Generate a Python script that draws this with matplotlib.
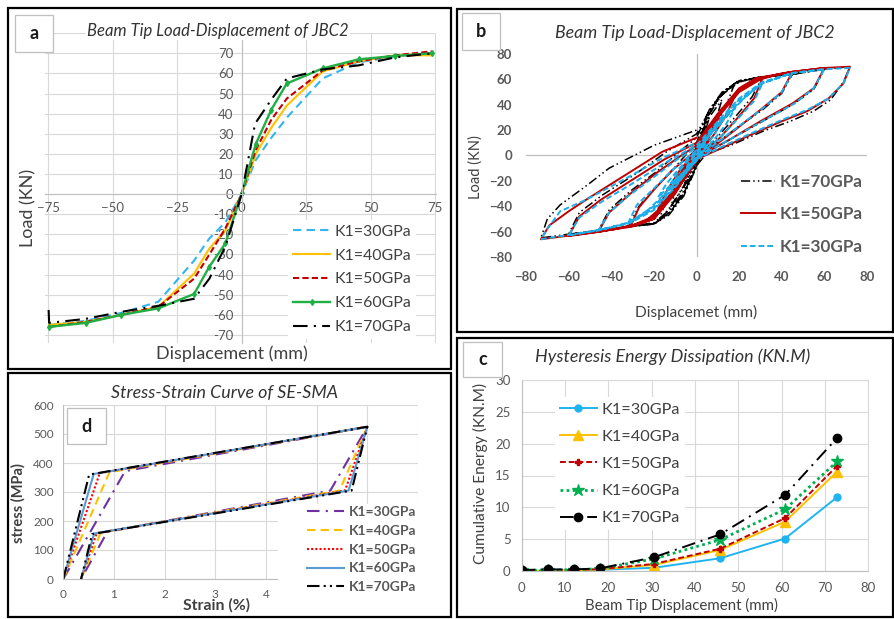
import matplotlib
matplotlib.use('Agg')
import matplotlib.pyplot as plt
from matplotlib.patches import Rectangle

plt.rcParams['font.family'] = ['Lato', 'DejaVu Sans']

W, H = 895, 619

# ---------------- panel a : backbone curves ----------------
a_disp = [-74.6, -60.4, -46.6, -32.3, -18.4, -12.5, -6.3, 0, 5.5, 11.5, 17.5, 31.4, 45.3, 59.5, 73.7]
a_k30 = [-65, -63, -59, -53.5, -33, -22, -14, 0, 17, 28, 38, 57.5, 65.5, 68.5, 70]
a_k40 = [-65, -63.5, -60, -56, -39.5, -27, -18, 0, 20, 33, 44, 61, 66, 69, 69]
a_k50 = [-66, -63.5, -60, -56, -42, -30, -17, 0, 22, 37, 47.5, 61.5, 66, 69, 71]
a_k60 = [-66, -64, -60, -56.8, -49.6, -36, -24.5, 0.4, 25, 42, 55, 62.5, 67, 68.7, 70]
a_disp70 = [-74.8, -74.6, -60.4, -46.6, -32.3, -18.4, -12.5, -6.3, 0, 5.2, 11.5, 17.5, 31.4, 45.3, 59.5, 73.7]
a_k70 = [-57.6, -64, -62, -58.5, -55.5, -52, -42, -26, 0, 35, 47, 57.5, 62, 64, 68, 70]
a_xticks = [-75, -50, -25, 0, 25, 50, 75]
a_yticks = [-70, -60, -50, -40, -30, -20, -10, 0, 10, 20, 30, 40, 50, 60, 70, 80]
a_ylabels = ['-70', '-60', '-50', '-40', '-30', '-20', '-10', '0', '10', '20', '30', '40', '50', '60', '70', '']

# ---------------- panel b : hysteresis loops (one list of cycles per series) ----------------
b_k70 = [
    [(0, 0), (3, 18), (6, 30), (4, 18), (1, 4), (-3, -12), (-6, -25), (-4, -12), (-1, 0), (0, 3)],
    [(0, 3), (5, 28), (12, 44), (9, 28), (4, 10), (0, -4), (-6, -24), (-12, -40), (-9, -24), (-4, -6), (0, 5)],
    [(0, 5), (5, 30), (11, 46), (18, 57), (14, 40), (8, 20), (2, 4), (0, -5), (-6, -25), (-12, -40),
     (-18, -52), (-14, -35), (-8, -15), (-2, 0), (0, 7)],
    [(0, 7), (6, 33), (12, 48), (20, 58), (31, 62), (26, 46), (19, 32), (10, 15), (2, 1), (0, -7), (-6, -28),
     (-12, -42), (-20, -53), (-32, -56), (-27, -40), (-19, -25), (-10, -9), (0, 10)],
    [(0, 10), (6, 35), (12, 49), (20, 58), (30, 62), (45, 64), (40, 49), (31, 36), (19, 22), (8, 8), (0, -8),
     (-6, -30), (-12, -44), (-20, -54), (-32, -56), (-46, -59), (-41, -43), (-31, -28), (-19, -13), (-8, 3), (0, 14)],
    [(0, 14), (6, 36), (12, 50), (20, 59), (31, 62), (45, 64), (60, 68), (55, 52), (45, 40), (30, 26), (15, 12),
     (3, 1), (0, -8), (-6, -30), (-13, -46), (-20, -54), (-32, -56), (-46, -59), (-60, -62), (-55, -45),
     (-44, -31), (-29, -15), (-14, 3), (0, 17)],
    [(0, 17), (7, 38), (13, 51), (20, 59), (31, 62), (45, 64), (60, 68), (72, 70), (69, 58), (63, 44), (55, 35),
     (44, 27), (31, 19), (16, 8), (2, 0), (0, -9), (-6, -32), (-13, -47), (-20, -54), (-32, -56), (-46, -59),
     (-60, -62), (-73, -65), (-70, -50), (-64, -39), (-51, -23), (-41, -10), (-20, 8), (0, 20)],
]
b_k50 = [
    [(0, 0), (3, 11), (6, 22), (4, 12), (1, 2), (-3, -8), (-6, -17), (-4, -8), (-1, 1), (0, 2)],
    [(0, 2), (6, 20), (12, 37), (9, 24), (4, 9), (0, -2), (-6, -16), (-12, -30), (-9, -18), (-4, -5), (0, 3)],
    [(0, 3), (6, 20), (12, 36), (18, 47), (14, 32), (8, 16), (3, 5), (0, -3), (-6, -16), (-12, -30), (-18, -42),
     (-14, -28), (-8, -12), (-3, -2), (0, 4)],
    [(0, 4), (8, 26), (15, 42), (22, 54), (31, 61), (27, 45), (20, 31), (11, 14), (3, 2), (0, -4), (-8, -24),
     (-16, -40), (-24, -52), (-31, -56), (-27, -41), (-20, -27), (-11, -11), (-3, 0), (0, 5)],
    [(0, 5), (10, 30), (20, 50), (30, 60), (38, 64), (45, 66), (40, 50), (30, 36), (18, 20), (8, 7), (0, -4),
     (-10, -28), (-20, -48), (-30, -55), (-38, -58), (-46, -60), (-41, -45), (-31, -30), (-19, -14), (-8, -1), (0, 8)],
    [(0, 8), (10, 32), (20, 52), (28, 60), (45, 66), (60, 69), (55, 53), (45, 41), (30, 27), (15, 12), (3, 1),
     (0, -4), (-10, -29), (-20, -50), (-30, -55), (-45, -60), (-60, -63.5), (-55, -48), (-45, -35), (-30, -19),
     (-15, -3), (0, 10)],
    [(0, 10), (10, 33), (20, 53), (28, 61), (45, 66), (60, 69), (72, 70), (69, 57), (62, 45), (52, 35), (40, 27),
     (25, 16), (12, 6), (0, -3), (-10, -30), (-20, -50), (-30, -56), (-50, -61), (-73, -66), (-69, -55),
     (-60, -44), (-51, -34), (-33, -15), (-16, 3), (0, 14)],
]
b_k30 = [
    [(0, 0), (3, 9), (6, 17), (4, 9), (1, 1), (-3, -7), (-6, -14), (-4, -7), (-1, 0), (0, 1)],
    [(0, 1), (6, 16), (12, 28), (9, 18), (4, 6), (0, -2), (-6, -13), (-12, -22), (-9, -14), (-4, -4), (0, 2)],
    [(0, 2), (6, 16), (12, 28), (18, 37), (14, 25), (8, 12), (3, 3), (0, -2), (-6, -13), (-12, -23), (-18, -33),
     (-14, -22), (-8, -10), (-3, -1), (0, 3)],
    [(0, 3), (8, 20), (16, 34), (24, 48), (31, 57), (27, 43), (20, 30), (11, 14), (3, 3), (0, -3), (-8, -18),
     (-16, -32), (-24, -45), (-32, -53), (-28, -39), (-20, -26), (-11, -11), (-3, 0), (0, 4)],
    [(0, 4), (10, 24), (20, 42), (31, 57), (45, 65), (40, 50), (31, 37), (19, 22), (8, 8), (0, -3), (-10, -22),
     (-20, -40), (-32, -53), (-46, -59), (-41, -45), (-32, -32), (-20, -17), (-9, -3), (0, 6)],
    [(0, 6), (10, 26), (20, 44), (31, 57), (45, 65), (60, 68), (55, 53), (46, 41), (32, 28), (16, 13), (4, 2),
     (0, -4), (-10, -24), (-20, -42), (-32, -53), (-46, -59), (-60, -63), (-55, -49), (-45, -37), (-30, -22),
     (-15, -6), (0, 8)],
    [(0, 8), (10, 27), (20, 45), (31, 58), (45, 65), (60, 68), (72, 69), (69, 57), (62, 45), (52, 36), (40, 28),
     (25, 17), (12, 7), (0, -3), (-10, -25), (-20, -43), (-32, -54), (-50, -60), (-73, -66), (-70, -58),
     (-64, -44), (-52, -35), (-33, -18), (-16, -2), (0, 10)],
]
b_ticks = [-80, -60, -40, -20, 0, 20, 40, 60, 80]

# ---------------- panel c : cumulative energy ----------------
c_disp = [0, 6, 12, 18, 30.5, 45.8, 60.8, 72.8]
c_k30 = [0, 0.05, 0.1, 0.2, 0.5, 2.0, 5.1, 11.6]
c_k40 = [0, 0.05, 0.1, 0.25, 0.95, 3.3, 7.75, 15.6]
c_k50 = [0, 0.05, 0.15, 0.3, 1.1, 3.5, 8.3, 16.5]
c_k60 = [0.1, 0.15, 0.2, 0.35, 1.9, 4.9, 9.7, 17.2]
c_k70 = [0.15, 0.25, 0.25, 0.4, 2.15, 5.75, 11.95, 20.9]

# ---------------- panel d : SMA stress-strain ----------------
d_strain30 = [0, 1.22, 6.0, 5.27, 0.87, 0.35]
d_stress30 = [0, 372, 525, 305, 163, 0]
d_strain40 = [0, 0.91, 6.0, 5.45, 0.74, 0.35]
d_stress40 = [0, 368, 525, 305, 160, 0]
d_strain50 = [0, 0.72, 6.0, 5.56, 0.66, 0.35]
d_stress50 = [0, 365, 525, 305, 158, 0]
d_strain60 = [0, 0.60, 6.0, 5.63, 0.61, 0.35]
d_stress60 = [0, 362, 525, 305, 157, 0]
d_strain70 = [0, 0.51, 6.0, 5.69, 0.57, 0.35]
d_stress70 = [0, 360, 525, 305, 155, 0]
d_xlabels = ['0', '1', '2', '3', '4', '', '', '']

labels5 = ['K1=30GPa', 'K1=40GPa', 'K1=50GPa', 'K1=60GPa', 'K1=70GPa']

GRID = '#D9D9D9'
AXIS = '#BFBFBF'
TICK = '#595959'
TXT = '#404040'


def fx(px):
    return px / W


def fy(py):
    return 1 - py / H


def add_axes(fig, left, top, right, bottom):
    return fig.add_axes([fx(left), fy(bottom), (right - left) / W, (bottom - top) / H])


def border(fig, x0, y0, x1, y1):
    fig.add_artist(Rectangle((fx(x0), fy(y1)), (x1 - x0) / W, (y1 - y0) / H,
                             transform=fig.transFigure, fill=False, edgecolor='black', lw=1.6))


def tag(fig, x0, y0, x1, y1, letter):
    fig.add_artist(Rectangle((fx(x0), fy(y1)), (x1 - x0) / W, (y1 - y0) / H,
                             transform=fig.transFigure, facecolor='white', edgecolor=AXIS, lw=0.9, zorder=6))
    fig.text(fx((x0 + x1) / 2), fy((y0 + y1) / 2), letter, ha='center', va='center',
             fontsize=13, fontweight='bold', color='#1a1a1a', zorder=7)


def flatten(cycles):
    xs, ys = [], []
    for cyc in cycles:
        for x, y in cyc:
            xs.append(x)
            ys.append(y)
    return xs, ys


fig = plt.figure(figsize=(W / 100, H / 100), dpi=100)

# =============== panel a ===============
ax = add_axes(fig, 45, 33.2, 435.7, 343)
ax.set_xlim(-76.2, 75.2)
ax.set_ylim(-74, 80)
ax.set_xticks(a_xticks)
ax.set_yticks(a_yticks)
ax.set_yticklabels(a_ylabels)
ax.grid(True, color=GRID, lw=0.8)
ax.set_axisbelow(True)
for s in ['top', 'right']:
    ax.spines[s].set_visible(False)
ax.spines['left'].set_position(('data', 0))
ax.spines['bottom'].set_position(('data', 0))
for s in ['left', 'bottom']:
    ax.spines[s].set_color(AXIS)
ax.tick_params(length=0, labelsize=9.5, labelcolor=TICK, pad=6)
ax.plot(a_disp, a_k30, color='#33B5F0', lw=1.5, ls=(0, (4, 2.5)), label=labels5[0])
ax.plot(a_disp, a_k40, color='#FFC000', lw=1.5, label=labels5[1])
ax.plot(a_disp, a_k50, color='#C00000', lw=1.5, ls=(0, (3, 1.5)), label=labels5[2])
ax.plot(a_disp, a_k60, color='#1FAF45', lw=1.7, marker='d', ms=3, label=labels5[3])
ax.plot(a_disp70, a_k70, color='black', lw=1.5, ls=(0, (7, 3, 1, 3)), label=labels5[4])
ax.legend(loc='upper left', bbox_to_anchor=(fx(288.3), fy(219.8)), bbox_transform=fig.transFigure,
          prop={'size': 11.4}, labelcolor=TXT, handlelength=2.34, handletextpad=0.25,
          labelspacing=0.62, borderpad=0.3, borderaxespad=0, framealpha=1,
          facecolor='white', edgecolor='none', fancybox=False)
fig.text(fx(218), fy(30.7), 'Beam Tip Load-Displacement of JBC2', ha='center', va='center',
         fontsize=12, style='italic', color='#333333',
         bbox=dict(facecolor='white', edgecolor='none', pad=1))
fig.text(fx(28), fy(208), 'Load (KN)', rotation=90, ha='center', va='center', fontsize=13, color=TXT)
fig.text(fx(232), fy(353.3), 'Displacement (mm)', ha='center', va='center', fontsize=13, color=TXT)

# =============== panel b ===============
ax = add_axes(fig, 526, 54, 867, 257)
ax.set_xlim(-80, 80)
ax.set_ylim(-80, 80)
ax.set_xticks(b_ticks)
ax.set_yticks(b_ticks)
for s in ax.spines.values():
    s.set_visible(False)
ax.axhline(0, color=AXIS, lw=0.9, zorder=0)
ax.axvline(0, color=AXIS, lw=0.9, zorder=0)
ax.tick_params(length=0, labelsize=9.5, labelcolor=TICK, pad=10)
for lab in ax.get_xticklabels() + ax.get_yticklabels():
    lab.set_fontweight('bold')
x70, y70 = flatten(b_k70)
x50, y50 = flatten(b_k50)
x30, y30 = flatten(b_k30)
ax.plot(x70, y70, color='black', lw=1.1, ls=(0, (6, 2, 1, 2, 1, 2)), label='K1=70GPa')
ax.plot(x50, y50, color='#C00000', lw=1.4, label='K1=50GPa')
ax.plot(x30, y30, color='#1BAEE8', lw=1.4, ls=(0, (3, 1.5)), label='K1=30GPa')
ax.legend(loc='upper left', bbox_to_anchor=(fx(735.6), fy(168.4)), bbox_transform=fig.transFigure,
          prop={'size': 12.3, 'weight': 'bold'}, labelcolor=TICK, handlelength=2.0,
          handletextpad=0.3, labelspacing=0.98, borderpad=0.3, borderaxespad=0,
          framealpha=1, facecolor='white', edgecolor='none', fancybox=False)
fig.text(fx(695), fy(33.3), 'Beam Tip Load-Displacement of JBC2', ha='center', va='center',
         fontsize=12.8, style='italic', color='#333333')
fig.text(fx(476), fy(166.7), 'Load (KN)', rotation=90, ha='center', va='center', fontsize=10.5, color=TXT)
fig.text(fx(695.7), fy(312.7), 'Displacemet (mm)', ha='center', va='center', fontsize=11.2, color=TXT)

# =============== panel c ===============
ax = add_axes(fig, 521.7, 380, 868.3, 571)
ax.set_xlim(0, 80)
ax.set_ylim(0, 30)
ax.set_xticks(range(0, 81, 10))
ax.set_yticks(range(0, 31, 5))
ax.grid(True, color=GRID, lw=0.8)
ax.set_axisbelow(True)
for s in ['top', 'right']:
    ax.spines[s].set_color(GRID)
for s in ['left', 'bottom']:
    ax.spines[s].set_color(AXIS)
ax.tick_params(length=0, labelsize=9.5, labelcolor=TICK, pad=8)
ax.plot(c_disp, c_k30, color='#1FB4F0', lw=1.4, marker='o', ms=5, label=labels5[0])
ax.plot(c_disp, c_k40, color='#FFC000', lw=1.4, marker='^', ms=7, label=labels5[1])
ax.plot(c_disp, c_k50, color='#C00000', lw=1.4, ls=(0, (3, 1.5)), marker='P', ms=5, label=labels5[2])
ax.plot(c_disp, c_k60, color='#00B050', lw=2, ls=(0, (1, 1.2)), marker='*', ms=9, label=labels5[3])
ax.plot(c_disp, c_k70, color='black', lw=1.4, ls=(0, (7, 3, 1, 3)), marker='o', ms=6, label=labels5[4])
ax.legend(loc='upper left', bbox_to_anchor=(fx(555), fy(397.4)), bbox_transform=fig.transFigure,
          prop={'size': 11.7}, labelcolor=TXT, handlelength=2.28, handletextpad=0.3,
          labelspacing=0.79, borderpad=0.3, borderaxespad=0, framealpha=1,
          facecolor='white', edgecolor='none', fancybox=False)
fig.text(fx(672.7), fy(356.7), 'Hysteresis Energy Dissipation (KN.M)', ha='center', va='center',
         fontsize=12.9, style='italic', color='#333333')
fig.text(fx(480), fy(473), 'Cumulative Energy (KN.M)', rotation=90, ha='center', va='center',
         fontsize=11.2, color=TXT)
fig.text(fx(681.7), fy(605.7), 'Beam Tip Displacement (mm)', ha='center', va='center',
         fontsize=10.8, color=TXT)

# =============== panel d ===============
ax = add_axes(fig, 63.3, 405, 418, 579)
ax.set_xlim(0, 7)
ax.set_ylim(0, 600)
ax.set_xticks(range(0, 8))
ax.set_xticklabels(d_xlabels)
ax.set_yticks(range(0, 601, 100))
ax.grid(True, color=GRID, lw=0.8)
ax.set_axisbelow(True)
for s in ['top', 'right']:
    ax.spines[s].set_visible(False)
for s in ['left', 'bottom']:
    ax.spines[s].set_color(AXIS)
ax.tick_params(length=0, labelsize=8.5, labelcolor=TICK, pad=7)
ax.plot(d_strain30, d_stress30, color='#7030A0', lw=1.5, ls=(0, (6, 3, 1, 3)), label=labels5[0])
ax.plot(d_strain40, d_stress40, color='#FFC000', lw=1.5, ls=(0, (4, 2.5)), label=labels5[1])
ax.plot(d_strain50, d_stress50, color='#FF0000', lw=1.5, ls=(0, (1, 1)), label=labels5[2])
ax.plot(d_strain60, d_stress60, color='#5B9BD5', lw=1.5, label=labels5[3])
ax.plot(d_strain70, d_stress70, color='black', lw=1.5, ls=(0, (6, 2, 1, 2, 1, 2)), label=labels5[4])
# white block behind the legend, as in the original
ax.add_patch(Rectangle((fx(278), fy(603)), 142 / W, 99 / H, transform=fig.transFigure,
                       facecolor='white', edgecolor='none', zorder=4, clip_on=False))
ax.legend(loc='upper left', bbox_to_anchor=(fx(306.7), fy(506)), bbox_transform=fig.transFigure,
          prop={'size': 10, 'weight': 'bold'}, labelcolor=TICK, handlelength=2.66,
          handletextpad=0.35, labelspacing=0.49, borderpad=0, borderaxespad=0, frameon=False)
fig.text(fx(225), fy(392.7), 'Stress-Strain Curve of SE-SMA', ha='center', va='center',
         fontsize=12.9, style='italic', color='#333333')
fig.text(fx(18), fy(503), 'stress (MPa)', rotation=90, ha='center', va='center', fontsize=10.5,
         fontweight='bold', color=TXT)
fig.text(fx(216.7), fy(605.7), 'Strain (%)', ha='center', va='center', fontsize=11.3,
         fontweight='bold', color=TXT)

# panel frames and letter tags
border(fig, 8, 8, 451, 369)
border(fig, 457, 9, 893, 332)
border(fig, 457, 338, 893, 617)
border(fig, 8, 373, 451, 617)
tag(fig, 15, 15, 52.7, 51.7, 'a')
tag(fig, 461.7, 13.3, 500, 50, 'b')
tag(fig, 463, 341.7, 501.7, 377.3, 'c')
tag(fig, 67, 408, 106, 444, 'd')

plt.savefig('out.png', dpi=100)
